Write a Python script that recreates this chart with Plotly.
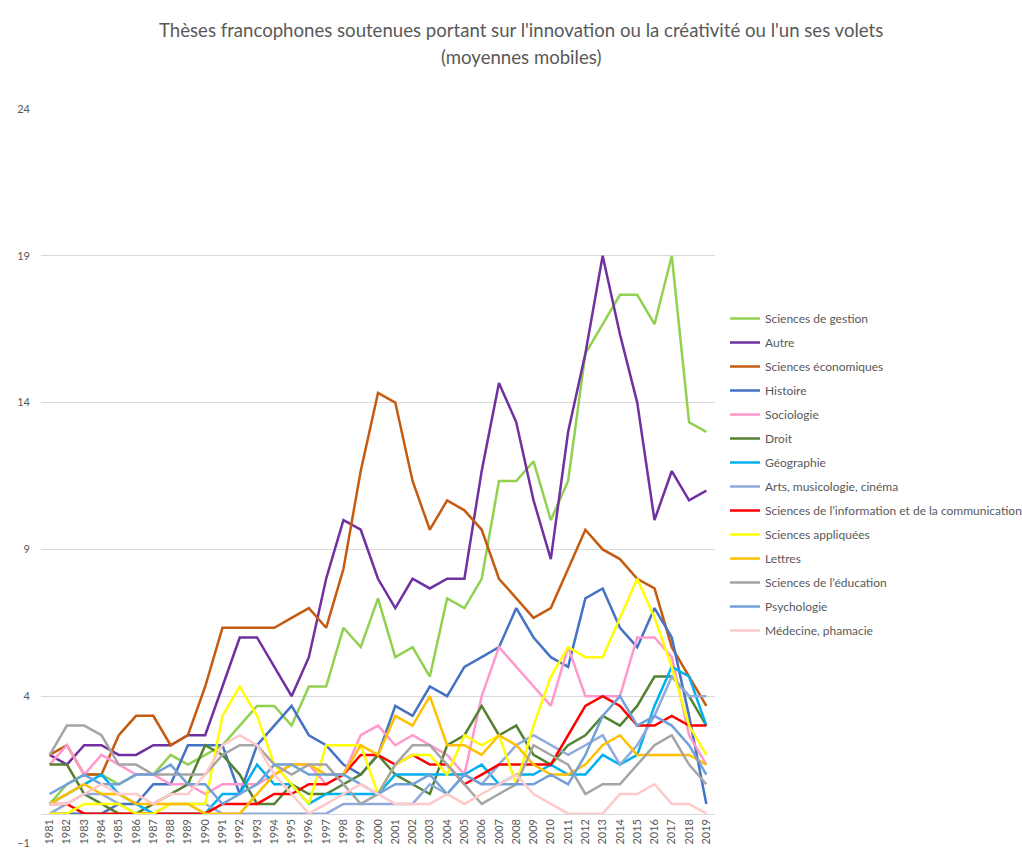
import plotly.graph_objects as go

years = list(range(1981, 2020))

gestion = [0.33, 1, 1.33, 1.33, 1, 1.33, 1.33, 2, 1.67, 2,
           2.33, 3, 3.67, 3.67, 3, 4.33, 4.33, 6.33, 5.67, 7.33,
           5.33, 5.67, 4.67, 7.33, 7, 8, 11.33, 11.33, 12, 10,
           11.33, 15.67, 16.67, 17.67, 17.67, 16.67, 19, 13.33, 13]
autre = [2, 1.67, 2.33, 2.33, 2, 2, 2.33, 2.33, 2.67, 2.67,
         4.33, 6, 6, 5, 4, 5.33, 8, 10, 9.67, 8,
         7, 8, 7.67, 8, 8, 11.67, 14.67, 13.33, 10.67, 8.67,
         13, 15.67, 19, 16.33, 14, 10, 11.67, 10.67, 11]
economie = [2, 2.33, 1.33, 1.33, 2.67, 3.33, 3.33, 2.33, 2.67, 4.33,
            6.33, 6.33, 6.33, 6.33, 6.67, 7, 6.33, 8.33, 11.67, 14.33,
            14, 11.33, 9.67, 10.67, 10.33, 9.67, 8, 7.33, 6.67, 7,
            8.33, 9.67, 9, 8.67, 8, 7.67, 5.67, 4.67, 3.67]
histoire = [0, 0, 0, 0, 0.33, 0.33, 1, 1, 2.33, 2.33,
            2.33, 0.67, 2.33, 3, 3.67, 2.67, 2.33, 1.67, 1.33, 2,
            3.67, 3.33, 4.33, 4, 5, 5.33, 5.67, 7, 6, 5.33,
            5, 7.33, 7.67, 6.33, 5.67, 7, 6, 3.33, 0.33]
sociologie = [1.67, 2.33, 1.33, 2, 1.67, 1.33, 1.33, 1, 1, 0.67,
              1, 1, 1, 1.33, 1.67, 1.67, 1, 1.33, 2.67, 3,
              2.33, 2.67, 2.33, 2, 1.33, 4, 5.67, 5, 4.33, 3.67,
              5.67, 4, 4, 4, 6, 6, 5.33, 2.67, 1.67]
droit = [1.67, 1.67, 0.67, 0.33, 0, 0, 0.33, 0.67, 1, 2.33,
         2, 1.33, 0.33, 0.33, 1, 0.67, 0.67, 1, 1.33, 2,
         1.33, 1, 0.67, 2.33, 2.67, 3.67, 2.67, 3, 2, 1.67,
         2.33, 2.67, 3.33, 3, 3.67, 4.67, 4.67, 4, 3]
geographie = [0.33, 0.67, 1, 1.33, 0.67, 0.33, 0, 0, 0, 0,
              0.67, 0.67, 1.67, 1, 1, 0.33, 0.67, 0.67, 0.67, 0.67,
              1.33, 1.33, 1.33, 1.33, 1.33, 1.67, 1, 1.33, 1.33, 1.67,
              1.33, 1.33, 2, 1.67, 2, 3.67, 5, 4.67, 3]
arts = [0, 0.33, 0.67, 0.67, 0.33, 0, 0, 0.33, 0.33, 0.33,
        0, 0, 0, 0, 0, 0, 0, 0.33, 0.33, 0.33,
        0.33, 0.33, 1, 0.67, 1.33, 1, 1.67, 2.33, 2.67, 2.33,
        2, 2.33, 2.67, 1.67, 2.33, 3.33, 4.67, 4, 4]
info_com = [0.33, 0.33, 0, 0, 0, 0, 0, 0, 0, 0,
            0.33, 0.33, 0.33, 0.67, 0.67, 1, 1, 1.33, 2, 2,
            1.67, 2, 1.67, 1.67, 1, 1.33, 1.67, 1.67, 1.67, 1.67,
            2.67, 3.67, 4, 3.67, 3, 3, 3.33, 3, 3]
appliquees = [0, 0, 0.33, 0.33, 0.33, 0, 0, 0.33, 0.33, 0.33,
              3.33, 4.33, 3.33, 1.67, 1, 0.33, 2.33, 2.33, 2.33, 0.67,
              1.67, 2, 2, 1.33, 2.67, 2.33, 2.67, 1, 3, 4.67,
              5.67, 5.33, 5.33, 6.67, 8, 6.67, 5, 3, 2]
lettres = [0.33, 0.67, 1, 0.67, 0.67, 0.33, 0.33, 0.33, 0.33, 0,
           0, 0, 0.67, 1.33, 1.67, 1.67, 1.33, 1.33, 2.33, 2,
           3.33, 3, 4, 2.33, 2.33, 2, 2.67, 2.33, 1.67, 1.33,
           1.33, 1.67, 2.33, 2.67, 2, 2, 2, 2, 1.67]
education = [2, 3, 3, 2.67, 1.67, 1.67, 1.33, 1.33, 1.33, 1.33,
             2, 2.33, 2.33, 1.67, 1.33, 1.67, 1.67, 1, 0.33, 0.67,
             1.67, 2.33, 2.33, 1.67, 1, 0.33, 0.67, 1, 2.33, 2,
             1.67, 0.67, 1, 1, 1.67, 2.33, 2.67, 1.67, 1]
psychologie = [0.67, 1, 1.33, 1, 1, 1.33, 1.33, 1.67, 1, 1,
               0.33, 0.67, 1, 1.67, 1.67, 1.33, 1.33, 1.33, 1, 0.67,
               1, 1, 1.33, 0.67, 1.33, 1, 1, 1, 1, 1.33,
               1, 2, 3.33, 4, 3, 3.33, 3, 2.33, 1.33]
medecine = [0.33, 0.33, 0.67, 1, 0.67, 0.67, 0.33, 0.67, 0.67, 1.33,
            2.33, 2.67, 2.33, 1.33, 0.67, 0, 0.33, 0.67, 1, 0.67,
            0.33, 0.33, 0.33, 0.67, 0.33, 0.67, 1, 1.33, 0.67, 0.33,
            0, 0, 0, 0.67, 0.67, 1, 0.33, 0.33, 0]

series = [
    ("Sciences de gestion", gestion, "#92D050"),
    ("Autre", autre, "#7030A0"),
    ("Sciences économiques", economie, "#C55A11"),
    ("Histoire", histoire, "#4472C4"),
    ("Sociologie", sociologie, "#FF99CC"),
    ("Droit", droit, "#548235"),
    ("Géographie", geographie, "#00B0F0"),
    ("Arts, musicologie, cinéma", arts, "#8FAADC"),
    ("Sciences de l’information et de la communication", info_com, "#FF0000"),
    ("Sciences appliquées", appliquees, "#FFFF00"),
    ("Lettres", lettres, "#FFC000"),
    ("Sciences de l’éducation", education, "#A5A5A5"),
    ("Psychologie", psychologie, "#72A0D8"),
    ("Médecine, phamacie", medecine, "#FFC9C9"),
]

title_lines = [
    "Thèses francophones soutenues portant sur l'innovation ou la créativité ou l'un ses volets",
    "(moyennes mobiles)",
]

FONT = "Lato"
GREY_TEXT = "#595959"
GRID = "#D9D9D9"
W, H = 1022, 854
ML, MR, MT, MB = 41, 307, 109, 11
PW, PH = W - ML - MR, H - MT - MB

fig = go.Figure()
for i, (name, vals, color) in enumerate(series):
    fig.add_trace(go.Scatter(
        x=years, y=vals, name=name, mode="lines",
        line=dict(color=color, width=2.5),
        legendgroup=f"g{i}",
    ))

# two-line chart title, one annotation per line
for txt, ypx in zip(title_lines, [30, 57]):
    fig.add_annotation(
        text=txt, xref="paper", yref="paper",
        x=(521 - ML) / PW, y=1 - (ypx - MT) / PH,
        xanchor="center", yanchor="middle", showarrow=False,
        font=dict(family=FONT, size=18.6, color=GREY_TEXT),
    )

fig.update_layout(
    width=W, height=H,
    margin=dict(l=ML, r=MR, t=MT, b=MB, autoexpand=False),
    paper_bgcolor="white", plot_bgcolor="white",
    font=dict(family=FONT, color=GREY_TEXT, size=11),
    showlegend=True,
    legend=dict(
        x=(728 - 3 - ML) / PW, y=1 - (304 - MT) / PH,
        xanchor="left", yanchor="top",
        font=dict(family=FONT, size=12, color=GREY_TEXT),
        itemwidth=30, tracegroupgap=5,
        bgcolor="rgba(0,0,0,0)",
    ),
    xaxis=dict(
        range=[1980.5, 2019.5],
        tickmode="array", tickvals=years, ticktext=[str(y) for y in years],
        tickangle=-90, ticks="", showgrid=False,
        anchor="free", position=1 / 25,
        showline=True, linecolor=GRID, linewidth=1,
        tickfont=dict(family=FONT, size=11, color=GREY_TEXT),
        zeroline=False,
    ),
    yaxis=dict(
        range=[-1, 24], tick0=-1, dtick=5,
        showgrid=True, gridcolor=GRID, gridwidth=1,
        zeroline=False, showline=False, ticks="",
        ticklabelstandoff=10,
        tickfont=dict(family=FONT, size=11, color=GREY_TEXT),
    ),
)

fig.write_html("out.html")
